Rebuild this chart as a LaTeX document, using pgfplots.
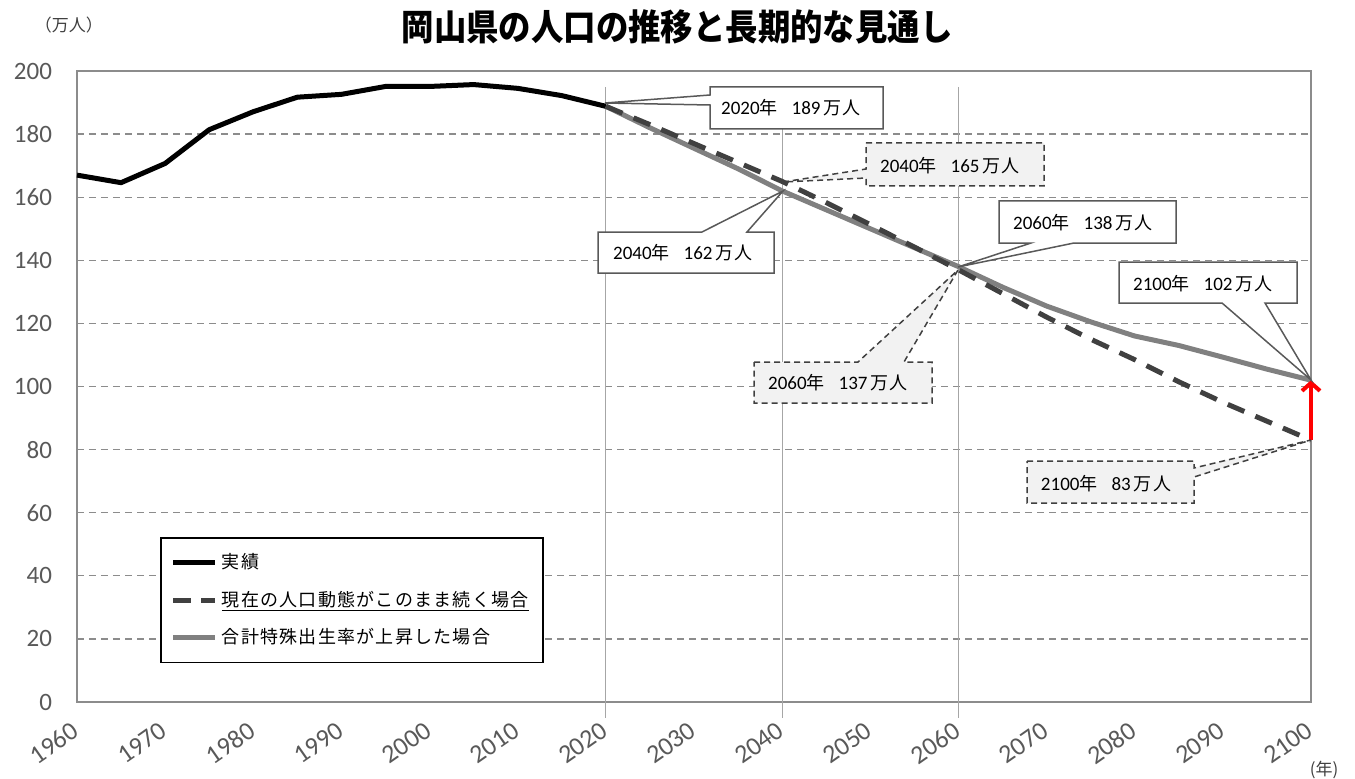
\documentclass[border=0pt]{standalone}
\usepackage{fontspec}
\setmainfont{Carlito}
\newfontfamily\cjk{Noto Sans CJK JP}
\newfontfamily\cjkls{Noto Sans CJK JP}[LetterSpace=7]
\usepackage{pgfplots}
\pgfplotsset{compat=1.18}
\usetikzlibrary{arrows.meta}

\definecolor{tickgray}{HTML}{595959}
\definecolor{gridgray}{HTML}{8C8C8C}
\definecolor{projgray}{HTML}{808080}
\definecolor{dashdark}{HTML}{404040}
\definecolor{boxfill}{HTML}{F2F2F2}
\definecolor{boxline}{HTML}{595959}
\definecolor{vgray}{HTML}{A6A6A6}

\newcommand\ann[2]{#1{\fontsize{9}{10}\selectfont\cjk 年}\hspace{7pt}#2\hspace{1.5pt}{\fontsize{9}{10}\selectfont\cjkls 万人}}

\pgfplotstableread{
year val
1960 167.0
1965 164.6
1970 170.7
1975 181.4
1980 187.1
1985 191.7
1990 192.6
1995 195.1
2000 195.1
2005 195.7
2010 194.5
2015 192.2
2020 188.8
}\actual

\pgfplotstableread{
year val
2020 188.8
2025 183.0
2030 177.0
2035 171.0
2040 165.0
2045 158.3
2050 151.3
2055 144.2
2060 137.0
2065 129.5
2070 122.0
2075 115.0
2080 108.5
2085 101.5
2090 95.0
2095 89.0
2100 83.0
}\current

\pgfplotstableread{
year val
2020 188.8
2025 182.0
2030 175.5
2035 169.0
2040 162.0
2045 156.0
2050 150.0
2055 144.0
2060 138.0
2065 131.5
2070 125.5
2075 120.5
2080 116.0
2085 113.0
2090 109.3
2095 105.5
2100 102.0
}\raised

\begin{document}
\begin{tikzpicture}
\begin{axis}[
  at={(0,0)}, anchor=south west,
  scale only axis, width=617pt, height=315.5pt,
  xmin=1960, xmax=2100, ymin=0, ymax=200,
  xtick={1960,1970,...,2100}, ytick={0,20,...,200},
  /pgf/number format/1000 sep={},
  /pgf/number format/assume math mode=true,
  xticklabel style={xshift=-11.5pt, yshift=-20.5pt, rotate=35, anchor=center, inner sep=0pt, font=\fontsize{13}{13}\selectfont, text=tickgray},
  yticklabel style={font=\fontsize{12.5}{12.5}\selectfont, text=tickgray, xshift=-9pt},
  major tick length=0pt,
  ymajorgrids,
  major grid style={gridgray, dash pattern=on 3.5pt off 2.5pt, line width=0.6pt},
  axis line style={draw=gridgray, line width=0.8pt},
  clip=false,
  legend style={at={(axis description cs:0.0673,0.2615)}, anchor=north west,
    draw=black, line width=0.8pt, fill=white, inner xsep=5pt, inner ysep=6pt,
    row sep=5.5pt, font=\cjkls\fontsize{9}{11}\selectfont, cells={anchor=west}},
  legend cell align=left,
  legend image code/.code={\draw[#1] (0pt,0pt) -- (21pt,0pt);},
]
\draw[vgray, line width=0.6pt] (axis cs:2020,195) -- ([yshift=-8pt]axis cs:2020,0);
\draw[vgray, line width=0.6pt] (axis cs:2040,195) -- ([yshift=-8pt]axis cs:2040,0);
\draw[vgray, line width=0.6pt] (axis cs:2060,195) -- ([yshift=-8pt]axis cs:2060,0);

\addlegendimage{black, line width=2.5pt}
\addlegendentry{実績}
\addlegendimage{dashdark, line width=2.5pt, dash pattern=on 9pt off 5pt}
\addlegendentry{\underline{現在の人口動態がこのまま続く場合}}
\addlegendimage{projgray, line width=2.5pt}
\addlegendentry{合計特殊出生率が上昇した場合}

\addplot[forget plot, black, line width=2.5pt, line join=round] table[x=year,y=val] {\actual};
\addplot[forget plot, projgray, line width=2.5pt, line join=round] table[x=year,y=val] {\raised};
\addplot[forget plot, dashdark, line width=2.5pt, dash pattern=on 9pt off 6pt, line join=round] table[x=year,y=val] {\current};
\addplot[forget plot, red, line width=2pt, -{Straight Barb[length=4pt,width=9pt]}] coordinates {(2100,83) (2100,102)};
\end{axis}

\begin{scope}[x=0.5pt, y=-0.5pt, shift={(-38.5pt,351pt)}]
  % title and units
  \node[font=\cjk\bfseries\fontsize{18}{20}\selectfont] at (677,27) {\scalebox{0.9}[1]{岡山県の人口の推移と長期的な見通し}};
  \node[font=\cjk\fontsize{8.5}{9}\selectfont, text=dashdark] at (69,25) {（万人）};
  \node[font=\cjk\fontsize{8.5}{9}\selectfont, text=dashdark] at (1324,770) {(年)};

  \tikzset{solidbox/.style={draw=boxline, line width=0.75pt, fill=white, line join=miter},
           dashbox/.style={draw=dashdark, line width=0.75pt, fill=boxfill, dash pattern=on 3pt off 2pt}}
  % 2020 189
  \draw[solidbox] (710,87) -- (883,87) -- (883,129) -- (710,129) -- (710,105) -- (605,103) -- (710,95) -- cycle;
  \node[font=\fontsize{9.5}{11}\selectfont] at (791,108) {\ann{2020}{189}};
  % 2040 165
  \draw[dashbox] (866,143) -- (1044,143) -- (1044,186) -- (866,186) -- (866,178) -- (783,182) -- (866,169) -- cycle;
  \node[font=\fontsize{9.5}{11}\selectfont] at (950,166) {\ann{2040}{165}};
  % 2040 162
  \draw[solidbox] (598,232) -- (702,232) -- (783,191) -- (747,232) -- (774,232) -- (774,273) -- (598,273) -- cycle;
  \node[font=\fontsize{9.5}{11}\selectfont] at (683,253) {\ann{2040}{162}};
  % 2060 138
  \draw[solidbox] (999,201) -- (1176,201) -- (1176,243) -- (1074,243) -- (958,267) -- (1031,243) -- (999,243) -- cycle;
  \node[font=\fontsize{9.5}{11}\selectfont] at (1083,223) {\ann{2060}{138}};
  % 2060 137
  \draw[dashbox] (754,362) -- (858,362) -- (958,270) -- (904,362) -- (932,362) -- (932,403) -- (754,403) -- cycle;
  \node[font=\fontsize{9.5}{11}\selectfont] at (838,383) {\ann{2060}{137}};
  % 2100 102
  \draw[solidbox] (1119,262) -- (1297,262) -- (1297,303) -- (1265,303) -- (1311,380) -- (1222,303) -- (1119,303) -- cycle;
  \node[font=\fontsize{9.5}{11}\selectfont] at (1203,284) {\ann{2100}{102}};
  % 2100 83
  \draw[dashbox] (1027,461) -- (1194,461) -- (1194,468) -- (1311,440) -- (1194,477) -- (1194,503) -- (1027,503) -- cycle;
  \node[font=\fontsize{9.5}{11}\selectfont] at (1106,484) {\ann{2100}{83}};
\end{scope}

\pgfresetboundingbox
\path[use as bounding box] (-38.5pt,-38pt) rectangle (639pt,351pt);
\end{tikzpicture}
\end{document}
